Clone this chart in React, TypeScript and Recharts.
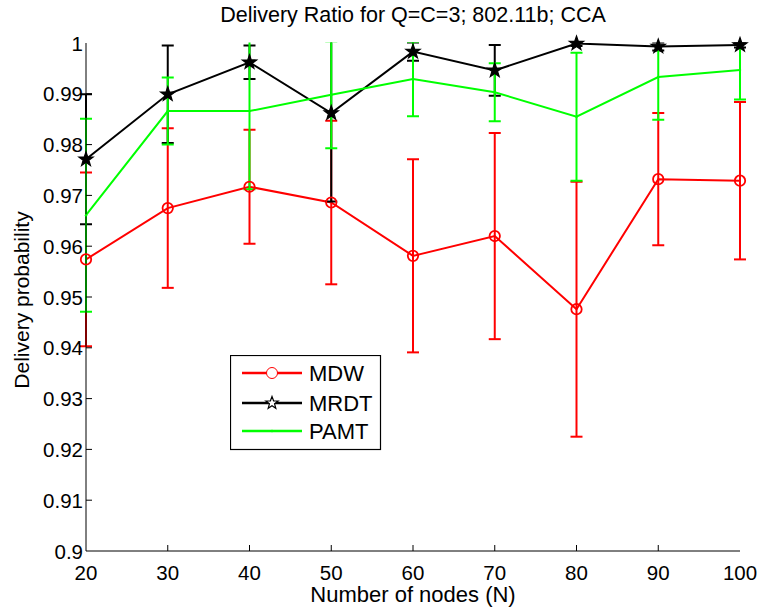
import React from 'react';
import {
  LineChart,
  Line,
  XAxis,
  YAxis,
  ErrorBar,
  Legend,
} from 'recharts';

// Number of nodes on the x axis
const nodes = [20, 30, 40, 50, 60, 70, 80, 90, 100];

// Delivery probability means and error-bar half lengths
const mdwMean = [0.9574, 0.9675, 0.9717, 0.9686, 0.9581, 0.962, 0.9476, 0.9732, 0.9729];
const mdwErr = [0.0171, 0.0157, 0.0112, 0.0161, 0.019, 0.0203, 0.0251, 0.013, 0.0155];
const mrdtMean = [0.9771, 0.9899, 0.9962, 0.9862, 0.9983, 0.9946, 0.9999, 0.9993, 0.9996];
const mrdtErr = [0.0128, 0.0096, 0.0033, 0.0174, 0.0018, 0.005, 0.0005, 0.0008, 0.0005];
const pamtMean = [0.9661, 0.9866, 0.9866, 0.9898, 0.9929, 0.9903, 0.9855, 0.9933, 0.9947];
const pamtErr = [0.019, 0.0066, 0.0154, 0.0105, 0.0073, 0.0057, 0.0126, 0.0084, 0.0058];

const xTicks = [20, 30, 40, 50, 60, 70, 80, 90, 100];
const yTicks = [0.9, 0.91, 0.92, 0.93, 0.94, 0.95, 0.96, 0.97, 0.98, 0.99, 1];

const data = nodes.map((n, i) => ({
  n,
  mdw: mdwMean[i],
  mdwErr: mdwErr[i],
  mrdt: mrdtMean[i],
  mrdtErr: mrdtErr[i],
  pamt: pamtMean[i],
  pamtErr: pamtErr[i],
}));

const FONT = '"Liberation Sans", Arial, Helvetica, sans-serif';
const RED = '#ff0000';
const GREEN = '#00ff00';
const BLACK = '#000000';
const TICK_LEN = 6;
const PLOT_TOP = 43;

const fmtY = (v: number) => String(+v.toFixed(2));

const starPoints = (cx: number, cy: number, R: number, r: number) =>
  Array.from({ length: 10 }, (_, i) => {
    const a = -Math.PI / 2 + (i * Math.PI) / 5;
    const rad = i % 2 === 0 ? R : r;
    return `${cx + rad * Math.cos(a)},${cy + rad * Math.sin(a)}`;
  }).join(' ');

// tick renderers: MATLAB style inward ticks
const LeftTick = ({ x, y, payload }: any) => {
  const v = payload.value;
  const edge = v === 0.9 || v === 1;
  return (
    <g>
      {!edge && <line x1={x} x2={x + TICK_LEN} y1={y} y2={y} stroke={BLACK} strokeWidth={1} />}
      <text x={x - 3} y={y} textAnchor="end" dominantBaseline="central" fontSize={20.5} fontFamily={FONT} fill={BLACK}>
        {fmtY(v)}
      </text>
    </g>
  );
};

const RightTick = ({ x, y, payload }: any) => {
  const v = payload.value;
  if (v === 0.9 || v === 1) return <g />;
  return <line x1={x - TICK_LEN} x2={x} y1={y} y2={y} stroke={BLACK} strokeWidth={1} />;
};

const BottomTick = ({ x, y, payload }: any) => {
  const v = payload.value;
  const edge = v === 20 || v === 100;
  return (
    <g>
      {!edge && <line x1={x} x2={x} y1={y} y2={y - TICK_LEN} stroke={BLACK} strokeWidth={1} />}
      <text x={x} y={y + 29} textAnchor="middle" fontSize={20.5} fontFamily={FONT} fill={BLACK}>
        {v}
      </text>
    </g>
  );
};

const TopTick = ({ x, y, payload }: any) => {
  const v = payload.value;
  if (v === 20 || v === 100) return <g />;
  return <line x1={x} x2={x} y1={y} y2={y + TICK_LEN} stroke={BLACK} strokeWidth={1} />;
};

const CircleDot = (props: any) => {
  const { cx, cy, index } = props;
  return <circle key={`c-${index}`} cx={cx} cy={cy} r={5.2} fill="none" stroke={RED} strokeWidth={1.8} />;
};

const StarDot = (props: any) => {
  const { cx, cy, index } = props;
  return (
    <polygon key={`s-${index}`} points={starPoints(cx, cy, 7.5, 3)} fill={BLACK} stroke={BLACK} strokeWidth={1.2} />
  );
};

const PointDot = (props: any) => {
  const { cx, cy, index } = props;
  return <circle key={`p-${index}`} cx={cx} cy={cy} r={1.2} fill={GREEN} />;
};

const LegendBox = ({ payload }: any) => {
  const items = (payload || []).filter((p: any) => p.type !== 'none');
  const rowY = [18, 48, 76];
  return (
    <svg width={152} height={96} style={{ display: 'block' }}>
      <rect x={0.5} y={0.5} width={150} height={94} fill="#fff" stroke={BLACK} strokeWidth={1.2} />
      {items.map((p: any, i: number) => {
        const y = rowY[i];
        return (
          <g key={p.value}>
            <line x1={12} x2={72} y1={y} y2={y} stroke={p.color} strokeWidth={2.5} />
            {p.value === 'MDW' && <circle cx={42} cy={y} r={5.5} fill="#fff" stroke={RED} strokeWidth={1} />}
            {p.value === 'MRDT' && (
              <polygon points={starPoints(42, y, 6.5, 2.7)} fill="#fff" stroke={BLACK} strokeWidth={1.2} />
            )}
            {p.value === 'PAMT' && <circle cx={42} cy={y} r={1.3} fill={GREEN} />}
            <text x={79} y={y} dominantBaseline="central" fontSize={22} fontFamily={FONT} fill={BLACK}>
              {p.value}
            </text>
          </g>
        );
      })}
    </svg>
  );
};

export default function App() {
  return (
    <div style={{ position: 'absolute', left: 0, top: 0, width: 762, height: 616, background: '#fff', fontFamily: FONT }}>
      {/* error bars are cut at the top of the axes box, like MATLAB does */}
      <svg width={0} height={0} style={{ position: 'absolute' }}>
        <defs>
          <clipPath id="plot-top-clip">
            <rect x={0} y={PLOT_TOP - 0.5} width={762} height={616} />
          </clipPath>
        </defs>
      </svg>
      <style>{`
        .recharts-surface [class*="errorBar"] { clip-path: url(#plot-top-clip); }
      `}</style>
      <LineChart width={762} height={616} data={data} margin={{ top: PLOT_TOP, right: 22, bottom: 0, left: 0 }}>
        <XAxis
          xAxisId="bottom"
          dataKey="n"
          type="number"
          domain={[20, 100]}
          ticks={xTicks}
          interval={0}
          height={65}
          tickSize={0}
          tickMargin={0}
          tick={BottomTick}
          axisLine={{ stroke: BLACK, strokeWidth: 1 }}
          allowDataOverflow
        />
        <XAxis
          xAxisId="top"
          dataKey="n"
          type="number"
          orientation="top"
          domain={[20, 100]}
          ticks={xTicks}
          interval={0}
          height={0}
          tickSize={0}
          tickMargin={0}
          tick={TopTick}
          axisLine={{ stroke: BLACK, strokeWidth: 1 }}
        />
        <YAxis
          yAxisId="left"
          type="number"
          domain={[0.9, 1]}
          ticks={yTicks}
          interval={0}
          width={86}
          tickSize={0}
          tickMargin={0}
          tick={LeftTick}
          axisLine={{ stroke: BLACK, strokeWidth: 1 }}
          allowDataOverflow
        />
        <YAxis
          yAxisId="right"
          type="number"
          orientation="right"
          domain={[0.9, 1]}
          ticks={yTicks}
          interval={0}
          width={0}
          tickSize={0}
          tickMargin={0}
          tick={RightTick}
          axisLine={{ stroke: BLACK, strokeWidth: 1 }}
        />

        <Line xAxisId="bottom" yAxisId="left" dataKey="mdw" name="MDW" stroke={RED} strokeWidth={2} dot={false} activeDot={false} isAnimationActive={false}>
          <ErrorBar dataKey="mdwErr" direction="y" width={6} stroke={RED} strokeWidth={2} isAnimationActive={false} />
        </Line>
        <Line xAxisId="top" yAxisId="right" dataKey="mdw" name="MDW markers" stroke="none" legendType="none" dot={CircleDot} activeDot={false} isAnimationActive={false} />

        <Line xAxisId="bottom" yAxisId="left" dataKey="mrdt" name="MRDT" stroke={BLACK} strokeWidth={2} dot={false} activeDot={false} isAnimationActive={false}>
          <ErrorBar dataKey="mrdtErr" direction="y" width={6} stroke={BLACK} strokeWidth={2} isAnimationActive={false} />
        </Line>
        <Line xAxisId="top" yAxisId="right" dataKey="mrdt" name="MRDT markers" stroke="none" legendType="none" dot={StarDot} activeDot={false} isAnimationActive={false} />

        <Line xAxisId="bottom" yAxisId="left" dataKey="pamt" name="PAMT" stroke={GREEN} strokeWidth={2} dot={false} activeDot={false} isAnimationActive={false}>
          <ErrorBar dataKey="pamtErr" direction="y" width={6} stroke={GREEN} strokeWidth={2} isAnimationActive={false} />
        </Line>
        <Line xAxisId="top" yAxisId="right" dataKey="pamt" name="PAMT markers" stroke="none" legendType="none" dot={PointDot} activeDot={false} isAnimationActive={false} />

        <Legend
          layout="vertical"
          align="center"
          verticalAlign="middle"
          wrapperStyle={{ left: 230, top: 355, width: 152, height: 96 }}
          content={LegendBox}
        />
      </LineChart>

      <div style={{ position: 'absolute', left: 0, width: 826, top: 3, textAlign: 'center', fontSize: 21.5, lineHeight: '24px', color: BLACK }}>
        Delivery Ratio for Q=C=3; 802.11b; CCA
      </div>
      <div style={{ position: 'absolute', left: 0, width: 826, top: 583, textAlign: 'center', fontSize: 22, lineHeight: '24px', color: BLACK }}>
        Number of nodes (N)
      </div>
      <div
        style={{
          position: 'absolute',
          left: 22,
          top: 300,
          width: 0,
          height: 0,
          fontSize: 21,
          lineHeight: '24px',
          color: BLACK,
        }}
      >
        <div style={{ position: 'absolute', left: -150, top: -12, width: 300, textAlign: 'center', transform: 'rotate(-90deg)', whiteSpace: 'nowrap' }}>
          Delivery probability
        </div>
      </div>
    </div>
  );
}
